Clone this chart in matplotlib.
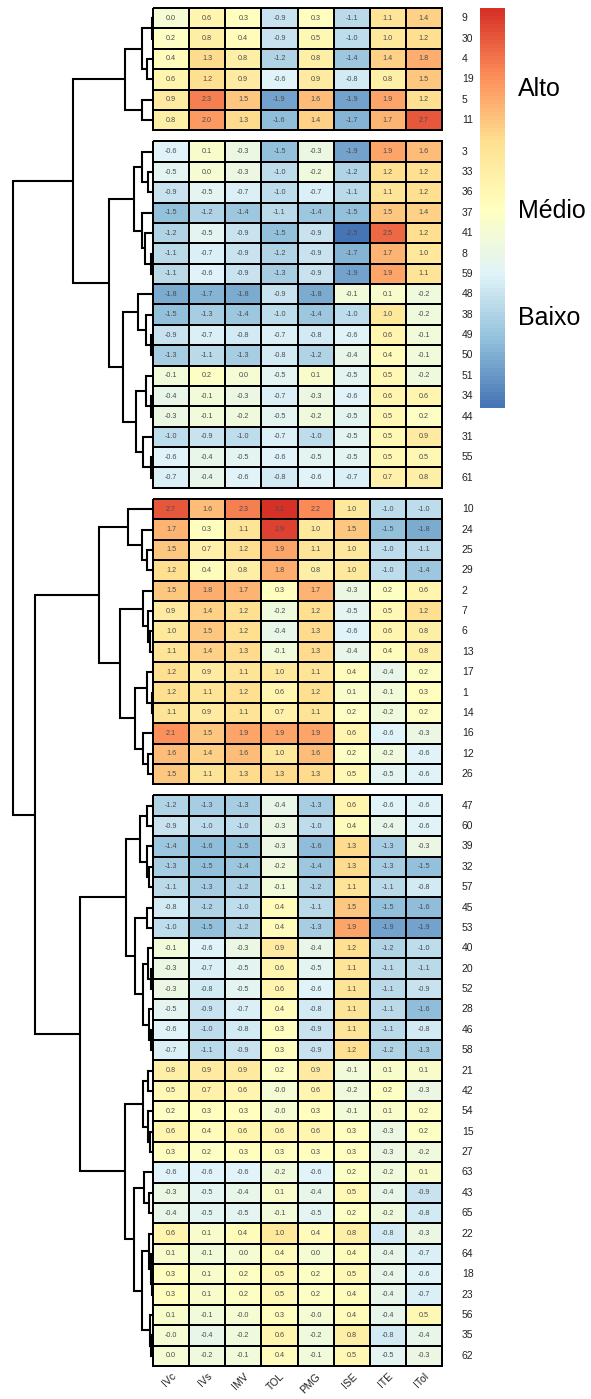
import numpy as np
import matplotlib
matplotlib.use('Agg')
import matplotlib.pyplot as plt
from matplotlib.colors import LinearSegmentedColormap, Normalize
from matplotlib.cm import ScalarMappable

plt.rcParams['font.family'] = ['Liberation Sans', 'DejaVu Sans']

cols = ['IVc', 'IVs', 'IMV', 'TOL', 'PMG', 'ISE', 'ITE', 'ITol']

# row groups (cutree = 4), top to bottom
g1_rows = ['9', '30', '4', '19', '5', '11']
g1_vals = [
    [0.0, 0.6, 0.3, -0.9, 0.3, -1.1, 1.1, 1.4],
    [0.2, 0.8, 0.4, -0.9, 0.5, -1.0, 1.0, 1.2],
    [0.4, 1.3, 0.8, -1.2, 0.8, -1.4, 1.4, 1.8],
    [0.6, 1.2, 0.9, -0.6, 0.9, -0.8, 0.8, 1.5],
    [0.9, 2.3, 1.5, -1.9, 1.6, -1.9, 1.9, 1.2],
    [0.8, 2.0, 1.3, -1.6, 1.4, -1.7, 1.7, 2.7],
]

g2_rows = ['3', '33', '36', '37', '41', '8', '59', '48', '38', '49', '50',
           '51', '34', '44', '31', '55', '61']
g2_vals = [
    [-0.6, 0.1, -0.3, -1.5, -0.3, -1.9, 1.9, 1.6],
    [-0.5, 0.0, -0.3, -1.0, -0.2, -1.2, 1.2, 1.2],
    [-0.9, -0.5, -0.7, -1.0, -0.7, -1.1, 1.1, 1.2],
    [-1.5, -1.2, -1.4, -1.1, -1.4, -1.5, 1.5, 1.4],
    [-1.2, -0.5, -0.9, -1.5, -0.9, -2.5, 2.5, 1.2],
    [-1.1, -0.7, -0.9, -1.2, -0.9, -1.7, 1.7, 1.0],
    [-1.1, -0.6, -0.9, -1.3, -0.9, -1.9, 1.9, 1.1],
    [-1.8, -1.7, -1.8, -0.9, -1.8, -0.1, 0.1, -0.2],
    [-1.5, -1.3, -1.4, -1.0, -1.4, -1.0, 1.0, -0.2],
    [-0.9, -0.7, -0.8, -0.7, -0.8, -0.6, 0.6, -0.1],
    [-1.3, -1.1, -1.3, -0.8, -1.2, -0.4, 0.4, -0.1],
    [-0.1, 0.2, 0.0, -0.5, 0.1, -0.5, 0.5, -0.2],
    [-0.4, -0.1, -0.3, -0.7, -0.3, -0.6, 0.6, 0.6],
    [-0.3, -0.1, -0.2, -0.5, -0.2, -0.5, 0.5, 0.2],
    [-1.0, -0.9, -1.0, -0.7, -1.0, -0.5, 0.5, 0.9],
    [-0.6, -0.4, -0.5, -0.6, -0.5, -0.5, 0.5, 0.5],
    [-0.7, -0.4, -0.6, -0.8, -0.6, -0.7, 0.7, 0.8],
]

g3_rows = ['10', '24', '25', '29', '2', '7', '6', '13', '17', '1', '14',
           '16', '12', '26']
g3_vals = [
    [2.7, 1.6, 2.3, 3.1, 2.2, 1.0, -1.0, -1.0],
    [1.7, 0.3, 1.1, 2.9, 1.0, 1.5, -1.5, -1.8],
    [1.5, 0.7, 1.2, 1.9, 1.1, 1.0, -1.0, -1.1],
    [1.2, 0.4, 0.8, 1.8, 0.8, 1.0, -1.0, -1.4],
    [1.5, 1.8, 1.7, 0.3, 1.7, -0.3, 0.2, 0.6],
    [0.9, 1.4, 1.2, -0.2, 1.2, -0.5, 0.5, 1.2],
    [1.0, 1.5, 1.2, -0.4, 1.3, -0.6, 0.6, 0.8],
    [1.1, 1.4, 1.3, -0.1, 1.3, -0.4, 0.4, 0.8],
    [1.2, 0.9, 1.1, 1.0, 1.1, 0.4, -0.4, 0.2],
    [1.2, 1.1, 1.2, 0.6, 1.2, 0.1, -0.1, 0.3],
    [1.1, 0.9, 1.1, 0.7, 1.1, 0.2, -0.2, 0.2],
    [2.1, 1.5, 1.9, 1.9, 1.9, 0.6, -0.6, -0.3],
    [1.6, 1.4, 1.6, 1.0, 1.6, 0.2, -0.2, -0.6],
    [1.5, 1.1, 1.3, 1.3, 1.3, 0.5, -0.5, -0.6],
]

g4_rows = ['47', '60', '39', '32', '57', '45', '53', '40', '20', '52', '28',
           '46', '58', '21', '42', '54', '15', '27', '63', '43', '65', '22',
           '64', '18', '23', '56', '35', '62']
g4_vals = [
    [-1.2, -1.3, -1.3, -0.4, -1.3, 0.6, -0.6, -0.6],
    [-0.9, -1.0, -1.0, -0.3, -1.0, 0.4, -0.4, -0.6],
    [-1.4, -1.6, -1.5, -0.3, -1.6, 1.3, -1.3, -0.3],
    [-1.3, -1.5, -1.4, -0.2, -1.4, 1.3, -1.3, -1.5],
    [-1.1, -1.3, -1.2, -0.1, -1.2, 1.1, -1.1, -0.8],
    [-0.8, -1.2, -1.0, 0.4, -1.1, 1.5, -1.5, -1.6],
    [-1.0, -1.5, -1.2, 0.4, -1.3, 1.9, -1.9, -1.9],
    [-0.1, -0.6, -0.3, 0.9, -0.4, 1.2, -1.2, -1.0],
    [-0.3, -0.7, -0.5, 0.6, -0.5, 1.1, -1.1, -1.1],
    [-0.3, -0.8, -0.5, 0.6, -0.6, 1.1, -1.1, -0.9],
    [-0.5, -0.9, -0.7, 0.4, -0.8, 1.1, -1.1, -1.6],
    [-0.6, -1.0, -0.8, 0.3, -0.9, 1.1, -1.1, -0.8],
    [-0.7, -1.1, -0.9, 0.3, -0.9, 1.2, -1.2, -1.3],
    [0.8, 0.9, 0.9, 0.2, 0.9, -0.1, 0.1, 0.1],
    [0.5, 0.7, 0.6, -0.0, 0.6, -0.2, 0.2, -0.3],
    [0.2, 0.3, 0.3, -0.0, 0.3, -0.1, 0.1, 0.2],
    [0.6, 0.4, 0.6, 0.6, 0.6, 0.3, -0.3, 0.2],
    [0.3, 0.2, 0.3, 0.3, 0.3, 0.3, -0.3, -0.2],
    [-0.6, -0.6, -0.6, -0.2, -0.6, 0.2, -0.2, 0.1],
    [-0.3, -0.5, -0.4, 0.1, -0.4, 0.5, -0.4, -0.9],
    [-0.4, -0.5, -0.5, -0.1, -0.5, 0.2, -0.2, -0.8],
    [0.6, 0.1, 0.4, 1.0, 0.4, 0.8, -0.8, -0.3],
    [0.1, -0.1, 0.0, 0.4, 0.0, 0.4, -0.4, -0.7],
    [0.3, 0.1, 0.2, 0.5, 0.2, 0.5, -0.4, -0.6],
    [0.3, 0.1, 0.2, 0.5, 0.2, 0.4, -0.4, -0.7],
    [0.1, -0.1, -0.0, 0.3, -0.0, 0.4, -0.4, 0.5],
    [-0.0, -0.4, -0.2, 0.6, -0.2, 0.8, -0.8, -0.4],
    [0.0, -0.2, -0.1, 0.4, -0.1, 0.5, -0.5, -0.3],
]

# dendrogram: [height, left, right], leaves are row labels
tree_g1 = [2.8, [1.1, [0.1, '9', '30'], [0.6, '4', '19']], [1.1, '5', '11']]
tree_g2 = [4.4,
           [1.9, [1.1, '3', [0.5, '33', '36']],
                 [1.1, '37', [0.8, '41', [0.2, '8', '59']]]],
           [3.0, [1.5, '48', [0.7, '38', [0.2, '49', '50']]],
                 [1.7, [0.7, '51', [0.2, '34', '44']],
                       [1.0, '31', [0.2, '55', '61']]]]]
tree_g3 = [5.4,
           [2.5, '10', [1.1, '24', [0.6, '25', '29']]],
           [3.3, [1.0, '2', [0.5, '7', [0.3, '6', '13']]],
                 [1.8, [0.6, '17', [0.1, '1', '14']],
                       [1.0, '16', [0.5, '12', '26']]]]]
tree_g4 = [7.3,
           [2.7, [1.3, [0.6, '47', '60'], [0.6, '39', [0.4, '32', '57']]],
                 [1.8, [0.6, '45', '53'],
                       [1.0, [0.5, '40', [0.2, '20', '52']],
                             [0.4, '28', [0.2, '46', '58']]]]],
           [2.8, [1.0, [0.5, '21', '42'], [0.5, '54', [0.3, '15', '27']]],
                 [1.9, [0.9, '63', [0.4, '43', '65']],
                       [1.1, [0.4, '22', [0.2, '64', [0.1, '18', '23']]],
                             [0.3, '56', [0.2, '35', '62']]]]]]
tree = [14.0, [8.0, tree_g1, tree_g2], [11.8, tree_g3, tree_g4]]

legend_breaks = [2.0, 0.3, -1.2]
legend_labels = ['Alto', 'Médio', 'Baixo']

palette = ['#4575B4', '#91BFDB', '#E0F3F8', '#FFFFBF', '#FEE090', '#FC8D59', '#D73027']
cmap = LinearSegmentedColormap.from_list('rdylbu_r', palette, N=100)

groups = [(g1_rows, g1_vals), (g2_rows, g2_vals), (g3_rows, g3_vals), (g4_rows, g4_vals)]
allv = np.concatenate([np.array(v) for _, v in groups])
norm = Normalize(vmin=allv.min(), vmax=allv.max())

W, H = 591, 1399
fig = plt.figure(figsize=(W / 100, H / 100), dpi=100)


def px_axes(x0, y0, x1, y1):
    return fig.add_axes([x0 / W, 1 - y1 / H, (x1 - x0) / W, (y1 - y0) / H])


gap = 0.55
n_total = sum(len(r) for r, _ in groups)
y_max = n_total + gap * (len(groups) - 1)

# heatmap
hm = px_axes(153, 8, 442, 1366)
ypos = {}
start = 0
for gi, (rows, vals) in enumerate(groups):
    y0 = start + gi * gap
    arr = np.array(vals)
    mesh = hm.pcolormesh(np.arange(len(cols) + 1), y0 + np.arange(len(rows) + 1), arr,
                         cmap=cmap, norm=norm, edgecolors='black', linewidth=1.4)
    mesh.set_clip_on(False)
    for i, r in enumerate(rows):
        yc = y0 + i + 0.5
        ypos[r] = yc
        for j, v in enumerate(vals[i]):
            hm.text(j + 0.5, yc, f'{v:.1f}', ha='center', va='center',
                    fontsize=5.2, color='#4D4D4D')
        hm.text(len(cols) + 0.55, yc, r, ha='left', va='center', fontsize=7.5,
                color='#222222', clip_on=False)
    start += len(rows)

for j, c in enumerate(cols):
    hm.text(j + 0.5, y_max + 0.25, c, rotation=45, ha='right', va='top',
            rotation_mode='anchor', fontsize=7.5, color='#222222', clip_on=False)

hm.set_xlim(0, len(cols))
hm.set_ylim(y_max, 0)
hm.axis('off')

# row dendrogram
dn = px_axes(0, 8, 153, 1366)


def draw(node):
    if isinstance(node, str):
        return ypos[node], 0.0
    h, left, right = node
    yl, hl = draw(left)
    yr, hr = draw(right)
    dn.plot([hl, h, h, hr], [yl, yl, yr, yr], color='black', lw=1.5,
            solid_capstyle='butt', solid_joinstyle='miter')
    return (yl + yr) / 2, h


ytop, htop = draw(tree)
dn.set_xlim(15.3, 0)
dn.set_ylim(y_max, 0)
dn.axis('off')

# colour legend
cax = px_axes(480, 8, 505, 408)
cb = fig.colorbar(ScalarMappable(norm=norm, cmap=cmap), cax=cax)
cb.outline.set_visible(False)
cb.set_ticks(legend_breaks)
cb.set_ticklabels(legend_labels)
cax.tick_params(length=0, labelsize=18, pad=9)

fig.savefig('out.png', dpi=100)
